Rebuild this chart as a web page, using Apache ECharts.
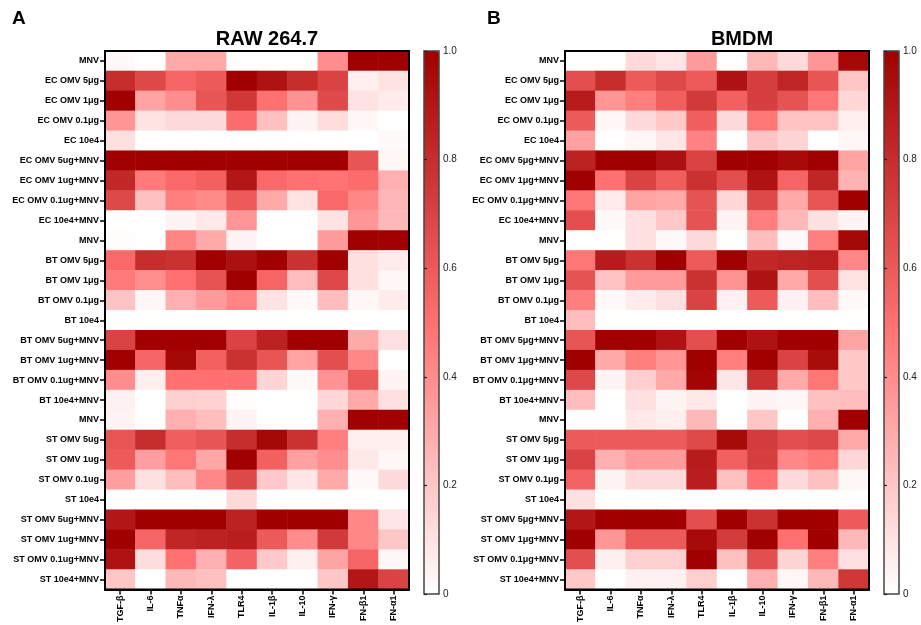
<!DOCTYPE html>
<html>
<head>
<meta charset="utf-8">
<script src="https://cdn.jsdelivr.net/npm/echarts@6/dist/echarts.min.js"></script>
<style>html,body{margin:0;padding:0;background:#fff;}#c{width:921px;height:625px;}</style>
</head>
<body>
<div id="c"></div>
<script>
const cytokines = ['TGF-β','IL-6','TNFα','IFN-λ','TLR4','IL-1β','IL-10','IFN-γ','FN-β1','FN-α1'];

const rowsRaw = ['MNV','EC OMV 5μg','EC OMV 1μg','EC OMV 0.1μg','EC 10e4','EC OMV 5ug+MNV','EC OMV 1ug+MNV','EC OMV 0.1ug+MNV','EC 10e4+MNV','MNV','BT OMV 5μg','BT OMV 1μg','BT OMV 0.1μg','BT 10e4','BT OMV 5ug+MNV','BT OMV 1ug+MNV','BT OMV 0.1ug+MNV','BT 10e4+MNV','MNV','ST OMV 5ug','ST OMV 1ug','ST OMV 0.1ug','ST 10e4','ST OMV 5ug+MNV','ST OMV 1ug+MNV','ST OMV 0.1ug+MNV','ST 10e4+MNV'];

const rowsBmdm = ['MNV','EC OMV 5μg','EC OMV 1μg','EC OMV 0.1μg','EC 10e4','EC OMV 5μg+MNV','EC OMV 1μg+MNV','EC OMV 0.1μg+MNV','EC 10e4+MNV','MNV','BT OMV 5μg','BT OMV 1μg','BT OMV 0.1μg','BT 10e4','BT OMV 5μg+MNV','BT OMV 1μg+MNV','BT OMV 0.1μg+MNV','BT 10e4+MNV','MNV','ST OMV 5μg','ST OMV 1μg','ST OMV 0.1μg','ST 10e4','ST OMV 5μg+MNV','ST OMV 1μg+MNV','ST OMV 0.1μg+MNV','ST 10e4+MNV'];

// RAW 264.7 values, one row per condition, columns follow cytokines
const rawValues = [
  [0.02,0,0.30,0.30,0,0,0,0.40,1.0,1.0],
  [0.80,0.68,0.55,0.60,1.0,0.92,0.80,0.70,0.06,0.10],
  [1.0,0.32,0.40,0.62,0.75,0.50,0.38,0.67,0.10,0.07],
  [0.37,0.10,0.13,0.13,0.52,0.22,0.04,0.12,0.03,0],
  [0.11,0,0,0,0,0,0,0,0,0.02],
  [1.0,1.0,1.0,1.0,1.0,1.0,1.0,1.0,0.62,0.03],
  [0.82,0.46,0.53,0.57,0.90,0.53,0.50,0.49,0.52,0.28],
  [0.68,0.22,0.45,0.41,0.60,0.30,0.10,0.53,0.42,0.26],
  [0,0,0.04,0.08,0.37,0,0,0.10,0.37,0.25],
  [0.01,0,0.43,0.30,0.04,0,0,0.35,1.0,1.0],
  [0.53,0.80,0.78,1.0,0.93,1.0,0.78,1.0,0.11,0.07],
  [0.46,0.39,0.50,0.63,1.0,0.55,0.23,0.68,0.11,0.03],
  [0.21,0.03,0.28,0.35,0.43,0.10,0.02,0.23,0.03,0.07],
  [0,0,0,0,0,0,0,0,0,0],
  [0.70,1.0,1.0,1.0,0.70,0.85,1.0,1.0,0.30,0.11],
  [1.0,0.55,0.97,0.57,0.78,0.62,0.32,0.65,0.42,0],
  [0.40,0.06,0.50,0.50,0.50,0.15,0.02,0.38,0.60,0.04],
  [0.05,0,0.17,0.16,0.01,0,0,0.14,0.30,0.11],
  [0.04,0,0.28,0.23,0.04,0,0,0.28,1.0,1.0],
  [0.62,0.80,0.58,0.62,0.80,0.97,0.78,0.45,0.06,0.06],
  [0.60,0.34,0.48,0.31,1.0,0.57,0.33,0.40,0.08,0.03],
  [0.34,0.11,0.23,0.42,0.68,0.19,0.09,0.30,0.02,0.13],
  [0,0,0,0,0.13,0,0,0,0,0],
  [0.90,1.0,1.0,1.0,0.85,1.0,1.0,1.0,0.42,0.09],
  [1.0,0.55,0.83,0.85,0.87,0.60,0.40,0.74,0.42,0.20],
  [0.92,0.12,0.50,0.28,0.56,0.19,0.06,0.32,0.55,0.03],
  [0.20,0,0.25,0.22,0,0,0,0.20,0.90,0.70]
];

// BMDM values
const bmdmValues = [
  [0,0,0.13,0.09,0.35,0,0.25,0.13,0.37,0.97],
  [0.65,0.80,0.60,0.68,0.60,0.92,0.72,0.83,0.62,0.20],
  [0.88,0.37,0.45,0.58,0.74,0.57,0.72,0.63,0.48,0.14],
  [0.60,0.03,0.13,0.19,0.58,0.13,0.48,0.21,0.21,0.06],
  [0.33,0,0.03,0.09,0.44,0,0.21,0.15,0,0.03],
  [0.85,1.0,1.0,0.93,0.70,1.0,1.0,0.96,1.0,0.32],
  [1.0,0.50,0.70,0.58,0.78,0.65,0.92,0.55,0.83,0.27],
  [0.48,0.07,0.32,0.30,0.63,0.14,0.68,0.30,0.62,1.0],
  [0.65,0.02,0.11,0.19,0.63,0.04,0.45,0.25,0.11,0.04],
  [0,0,0.11,0.02,0.13,0,0.23,0.02,0.45,0.97],
  [0.48,0.88,0.78,1.0,0.60,1.0,0.82,0.84,0.86,0.42],
  [0.63,0.21,0.35,0.35,0.78,0.38,0.92,0.30,0.65,0.10],
  [0.45,0.02,0.07,0.11,0.70,0.05,0.60,0.05,0.23,0.02],
  [0.23,0,0,0,0,0,0,0,0,0],
  [0.62,1.0,1.0,0.92,0.65,1.0,0.92,1.0,1.0,0.32],
  [1.0,0.30,0.45,0.37,1.0,0.45,1.0,0.70,0.95,0.19],
  [0.68,0.04,0.17,0.30,0.98,0.09,0.78,0.30,0.48,0.19],
  [0.23,0,0.11,0.04,0.08,0,0.04,0.03,0.22,0.23],
  [0,0,0.08,0.06,0.25,0,0.20,0,0.28,1.0],
  [0.60,0.60,0.60,0.60,0.67,0.96,0.73,0.65,0.68,0.30],
  [0.70,0.28,0.35,0.35,0.88,0.57,0.72,0.42,0.47,0.14],
  [0.56,0.04,0.13,0.13,0.87,0.22,0.50,0.13,0.22,0.03],
  [0.11,0,0,0,0,0,0,0,0,0],
  [0.90,1.0,1.0,1.0,0.65,1.0,0.78,1.0,1.0,0.60],
  [1.0,0.37,0.60,0.60,0.96,0.73,1.0,0.50,1.0,0.25],
  [0.65,0.06,0.17,0.17,1.0,0.22,0.65,0.15,0.45,0.11],
  [0.19,0,0.05,0.05,0.17,0,0.28,0.03,0.25,0.75]
];

const colorTicks = [0, 0.2, 0.4, 0.6, 0.8, 1.0];
const scaleColors = ['#FFFFFF', '#FF7070', '#A00000'];

function toTriples(matrix) {
  const out = [];
  matrix.forEach((row, yi) => row.forEach((v, xi) => out.push([xi, yi, v])));
  return out;
}

const FONT = '"Liberation Sans", Arial, sans-serif';
const G = { top: 51, height: 543, width: 304 };
const CB = { width: 15 };
const panels = [
  { left: 105, cb: 424, rows: rowsRaw, values: rawValues, title: 'RAW 264.7', titleX: 267, letter: 'A', letterX: 12 },
  { left: 565, cb: 884, rows: rowsBmdm, values: bmdmValues, title: 'BMDM', titleX: 742, letter: 'B', letterX: 487 }
];

const grid = [], xAxis = [], yAxis = [], series = [], visualMap = [], title = [];
panels.forEach((p, i) => {
  const gi = grid.length;
  const xi = xAxis.length;
  const yi = yAxis.length;
  grid.push({ left: p.left, top: G.top, width: G.width, height: G.height, show: true, borderColor: '#000', borderWidth: 2, z: 5, containLabel: false });
  xAxis.push({
    gridIndex: gi, type: 'category', data: cytokines, position: 'bottom',
    axisLine: { show: true, lineStyle: { color: '#000', width: 2 } },
    axisTick: { show: true, alignWithLabel: true, length: 5, lineStyle: { color: '#000', width: 1.5 } },
    axisLabel: { rotate: 90, fontFamily: FONT, fontWeight: 'bold', fontSize: 9, color: '#000', margin: 6, interval: 0 },
    splitLine: { show: false }, z: 6
  });
  yAxis.push({
    gridIndex: gi, type: 'category', data: p.rows, inverse: true,
    axisLine: { show: true, lineStyle: { color: '#000', width: 2 } },
    axisTick: { show: true, alignWithLabel: true, length: 5, lineStyle: { color: '#000', width: 1.5 } },
    axisLabel: { fontFamily: FONT, fontWeight: 'bold', fontSize: 9, color: '#000', margin: 6, interval: 0 },
    splitLine: { show: false }, z: 6
  });
  series.push({
    type: 'heatmap', xAxisIndex: xi, yAxisIndex: yi, data: toTriples(p.values),
    itemStyle: { borderWidth: 0 }, emphasis: { disabled: true }
  });
  visualMap.push({
    type: 'continuous', seriesIndex: i, min: 0, max: 1, calculable: false, orient: 'vertical',
    left: p.cb, top: G.top, itemWidth: CB.width, itemHeight: G.height, padding: 0,
    inRange: { color: scaleColors }, text: null, hoverLink: false
  });
  // colour bar frame and ticks
  const ci = grid.length;
  grid.push({ left: p.cb, top: G.top, width: CB.width, height: G.height, show: true, borderColor: '#444', borderWidth: 1.5, z: 6 });
  xAxis.push({ gridIndex: ci, type: 'value', show: false, min: 0, max: 1 });
  yAxis.push({
    gridIndex: ci, type: 'value', position: 'right', min: colorTicks[0], max: colorTicks[colorTicks.length - 1], interval: 0.2,
    axisLine: { show: false },
    axisTick: { show: true, length: 3, lineStyle: { color: '#222', width: 1.2 } },
    axisLabel: { fontFamily: FONT, fontSize: 10, color: '#222', margin: 4,
      formatter: v => v === 0 ? '0' : v.toFixed(1) },
    splitLine: { show: false }, z: 7
  });
  yAxis.push({
    gridIndex: ci, type: 'value', position: 'left', min: colorTicks[0], max: colorTicks[colorTicks.length - 1], interval: 0.2,
    axisLine: { show: false },
    axisTick: { show: true, inside: true, length: 2, lineStyle: { color: '#222', width: 1.2 } },
    axisLabel: { show: false },
    splitLine: { show: false }, z: 7
  });
  title.push({ text: p.title, left: p.titleX, top: 29, padding: 0, textAlign: 'center',
    textStyle: { fontFamily: FONT, fontWeight: 'bold', fontSize: 20, color: '#000' } });
  title.push({ text: p.letter, left: p.letterX, top: 9, padding: 0,
    textStyle: { fontFamily: FONT, fontWeight: 'bold', fontSize: 19, color: '#000' } });
});

const chart = echarts.init(document.getElementById('c'), null, { renderer: 'canvas' });
chart.setOption({
  animation: false,
  backgroundColor: '#fff',
  title, grid, xAxis, yAxis, series, visualMap,
  tooltip: { show: false }
});
</script>
</body>
</html>
